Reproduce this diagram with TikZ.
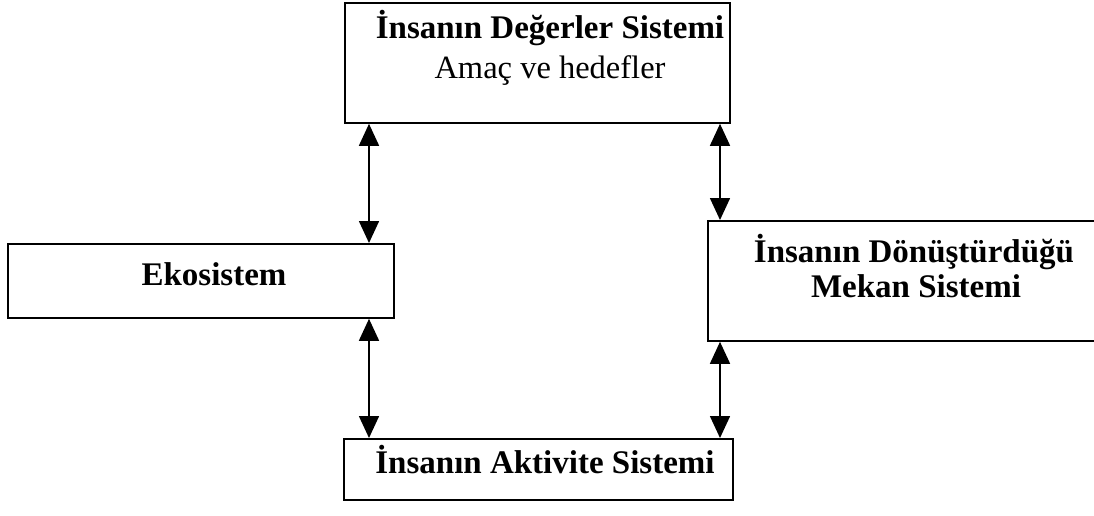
\documentclass[tikz,border=0pt]{standalone}
\usepackage{fontspec}
\setmainfont{Liberation Serif}
\usetikzlibrary{arrows.meta}
\begin{document}
\begin{tikzpicture}[x=1pt,y=-1pt,
  box/.style={draw=black, line width=1.8pt, rectangle, inner sep=0pt, anchor=north west},
  title/.style={anchor=base, inner sep=0pt, font=\fontsize{33}{38}\selectfont\bfseries},
  plain/.style={anchor=base, inner sep=0pt, font=\fontsize{32.5}{38}\selectfont},
  biarrow/.style={line width=1.6pt, {Triangle[length=22pt,width=20pt]}-{Triangle[length=22pt,width=20pt]}}]
  \useasboundingbox (0,0) rectangle (1094,515);
  \clip (0,0) rectangle (1094,515);

  % system boxes
  \node[box, minimum width=385pt, minimum height=120pt] (values) at (344,2) {};
  \node[box, minimum width=386pt, minimum height=74pt]  (eco)    at (7,243) {};
  \node[box, minimum width=400pt, minimum height=120pt] (space)  at (707,220) {};
  \node[box, minimum width=389pt, minimum height=61pt]  (act)    at (343,438) {};

  % box texts
  \node[title] (valuesT) at (550,38) {İnsanın Değerler Sistemi};
  \node[plain] (valuesS) at (550,78) {Amaç ve hedefler};
  \node[title] (ecoT)    at (214,285) {Ekosistem};
  \node[title] (spaceT)  at (914,262) {İnsanın Dönüştürdüğü};
  \node[title] (spaceS)  at (916,297) {Mekan Sistemi};
  \node[title] (actT)    at (545,473) {İnsanın Aktivite Sistemi};

  % connector columns
  \coordinate (colL) at (369,0);
  \coordinate (colR) at (720,0);

  % two-way links
  \draw[biarrow] (values.south -| colL) -- (eco.north -| colL);
  \draw[biarrow] (values.south -| colR) -- (space.north -| colR);
  \draw[biarrow] (eco.south -| colL) -- (act.north -| colL);
  \draw[biarrow] (space.south -| colR) -- (act.north -| colR);
\end{tikzpicture}
\end{document}
